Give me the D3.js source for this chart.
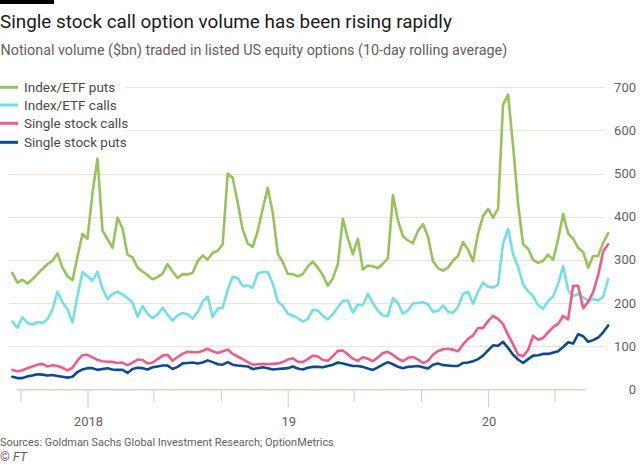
<!DOCTYPE html>
<html>
<head>
<meta charset="utf-8">
<script src="https://cdn.jsdelivr.net/npm/d3@7"></script>
<style>
  html, body { margin: 0; padding: 0; background: #fff; }
  svg { display: block; font-family: Roboto, "Noto Sans", sans-serif; }
</style>
</head>
<body>
<svg id="chart" width="640" height="467"></svg>
<script>
// ---------------- DATA ----------------
// Samples every 1/40 of a year (~9 days), first sample 15 steps before 1 Jan 2018
const sampleStart = "2018-01-01";
const sampleStepDays = 9.125;
const sampleOffset = -15;

const seriesNames = ["Index/ETF puts", "Index/ETF calls", "Single stock calls", "Single stock puts"];

const indexPuts = [
  270,247,254,245,255,267,279,290,298,315,282,262,253,307,360,
  349,455,535,368,348,328,398,372,312,306,282,273,265,255,260,268,290,273,258,267,266,270,297,310,301,316,321,336,500,490,433,370,338,330,367,418,467,410,315,295,268,267,262,267,285,296,282,
  265,240,257,290,395,350,313,349,278,287,285,281,291,304,450,392,355,345,339,367,383,354,297,281,275,282,298,309,341,324,297,361,402,418,398,418,660,683,565,430,336,326,300,293,298,312,300,348,406,361,349,328,318,282,309,309,340,362
];
const indexCalls = [
  157,143,167,154,150,156,154,162,185,226,202,185,155,216,272,
  262,252,273,233,209,221,226,220,211,201,168,193,175,165,174,189,173,159,171,177,174,164,179,203,215,168,187,189,231,261,258,239,241,235,269,272,272,246,203,194,175,171,165,157,163,184,183,
  170,162,174,190,205,206,178,196,195,221,200,182,171,170,211,200,175,183,199,200,202,197,180,182,194,180,177,191,221,226,198,227,247,238,236,242,338,372,313,284,243,227,216,195,187,204,215,245,285,230,216,221,213,205,209,205,215,255
];
const stockCalls = [
  45,42,44,49,53,57,59,53,56,54,50,44,50,67,79,
  80,74,68,65,64,64,61,62,56,62,69,68,60,62,70,78,80,66,75,82,87,86,86,89,94,88,84,88,92,82,76,70,63,57,58,59,58,59,60,63,69,72,64,63,70,78,76,
  68,66,77,89,90,81,71,66,75,71,65,74,84,87,80,71,65,73,75,69,61,66,80,89,93,94,92,88,104,117,125,142,142,158,170,163,151,126,104,80,77,91,124,115,119,132,144,152,170,162,240,240,188,203,226,265,320,336
];
const stockPuts = [
  29,26,26,30,32,35,34,32,33,31,29,27,29,40,46,
  49,49,45,47,49,46,45,45,38,47,50,49,46,51,53,55,55,47,52,60,61,62,60,62,67,63,58,57,63,57,55,54,53,47,49,51,49,46,47,48,49,53,48,46,50,52,52,
  51,54,57,62,60,57,54,54,52,48,45,51,57,63,58,52,49,52,53,54,51,48,57,60,56,55,54,54,61,62,65,70,78,90,102,101,110,96,80,69,61,70,78,79,82,82,85,88,98,109,106,128,123,110,114,120,132,148
];

const yTicks = [0, 100, 200, 300, 400, 500, 600, 700];
const xAxisStart = "2017-08-25";
const xAxisEnd = "2020-06-27";
const xTickDates = ["2017-09-01","2018-01-01","2018-05-01","2018-09-01","2019-01-01","2019-05-01","2019-09-01","2020-01-01","2020-05-01"];
const xTickLabels = {"2018-01-01": "2018", "2019-01-01": "19", "2020-01-01": "20"};

const title = "Single stock call option volume has been rising rapidly";
const subtitle = "Notional volume ($bn) traded in listed US equity options (10-day rolling average)";
const source = "Sources: Goldman Sachs Global Investment Research; OptionMetrics";

// ---------------- STYLE ----------------
const colors = ["#98c25a", "#72dfe9", "#ef5a8f", "#0c4a97"];
const textGrey = "#66605c";
const gridColor = "#ece4db";
const tickColor = "#ddd1c6";

// ---------------- DRAW ----------------
const parse = d3.timeParse("%Y-%m-%d");
const svg = d3.select("#chart");

const x = d3.scaleTime().domain([parse(xAxisStart), parse(xAxisEnd)]).range([16.7, 585.7]);
const y = d3.scaleLinear().domain([0, 700]).range([389.3, 87.3]);

const t0 = parse(sampleStart).getTime();
const dates = indexPuts.map((_, i) => new Date(t0 + (i + sampleOffset) * sampleStepDays * 864e5));

// top bar
svg.append("rect").attr("x", 0).attr("y", 0).attr("width", 54).attr("height", 4).attr("fill", "#000");

function fitText(sel, target) {
  const w = sel.node().getComputedTextLength();
  const fs = parseFloat(sel.attr("font-size"));
  sel.attr("font-size", (fs * target / w).toFixed(2));
}

const tt = svg.append("text").attr("x", 0).attr("y", 28).attr("font-size", 19)
  .attr("fill", "#1a1a1a").text(title);
fitText(tt, 452);
const st = svg.append("text").attr("x", 0.5).attr("y", 55).attr("font-size", 14)
  .attr("fill", textGrey).text(subtitle);
fitText(st, 507);

// gridlines
const grid = svg.append("g");
yTicks.filter(v => v > 0).forEach(v => {
  grid.append("line").attr("x1", 9).attr("x2", 605)
    .attr("y1", Math.round(y(v)) + 0.5).attr("y2", Math.round(y(v)) + 0.5)
    .attr("stroke", gridColor).attr("stroke-width", 1);
});
// y labels
yTicks.forEach(v => {
  svg.append("text").attr("x", 636).attr("y", y(v) + 4.6)
    .attr("text-anchor", "end").attr("font-size", 13).attr("fill", textGrey).text(v);
});

// x axis
const axis = d3.axisBottom(x)
  .tickValues(xTickDates.map(parse))
  .tickSize(12)
  .tickFormat(() => "");
const ax = svg.append("g").attr("transform", "translate(0,389.8)").call(axis);
ax.select(".domain").attr("stroke", tickColor).attr("stroke-width", 1.5).attr("d", `M${x(parse(xAxisStart))},0H${x(parse(xAxisEnd))}`);
ax.selectAll(".tick line").attr("stroke", tickColor).attr("stroke-width", 1.2)
  .attr("y2", d => xTickLabels[d3.timeFormat("%Y-%m-%d")(d)] ? 17.5 : 12);
xTickDates.forEach(ds => {
  if (xTickLabels[ds]) {
    svg.append("text").attr("x", x(parse(ds)) + 1).attr("y", 425.7).attr("text-anchor", "middle")
      .attr("font-size", 13).attr("fill", textGrey).text(xTickLabels[ds]);
  }
});

// legend background
svg.append("rect").attr("x", 0).attr("y", 77).attr("width", 126).attr("height", 74).attr("fill", "#fff");

// lines
const series = [indexPuts, indexCalls, stockCalls, stockPuts];
const line = d3.line().x((d, i) => x(dates[i])).y(d => y(d)).curve(d3.curveLinear);
series.forEach((vals, si) => {
  svg.append("path").datum(vals).attr("d", line)
    .attr("fill", "none").attr("stroke", colors[si]).attr("stroke-width", 2.6)
    .attr("stroke-linejoin", "round").attr("stroke-linecap", "round");
});

// legend
const legY = [87.3, 105, 123.3, 142.3];
seriesNames.forEach((n, i) => {
  svg.append("line").attr("x1", 0).attr("x2", 18).attr("y1", legY[i]).attr("y2", legY[i])
    .attr("stroke", colors[i]).attr("stroke-width", 3);
  svg.append("text").attr("x", 24).attr("y", legY[i] + 4.8).attr("font-size", 13.5)
    .attr("fill", "#4e4946").text(n);
});

// source
const src = svg.append("text").attr("x", 0).attr("y", 445.7).attr("font-size", 12)
  .attr("fill", textGrey).text(source);
fitText(src, 334);
const ft = svg.append("text").attr("x", 0).attr("y", 460.5).attr("font-size", 12.5).attr("fill", textGrey);
ft.append("tspan").text("© ");
ft.append("tspan").attr("font-style", "italic").text("FT");
</script>
</body>
</html>
